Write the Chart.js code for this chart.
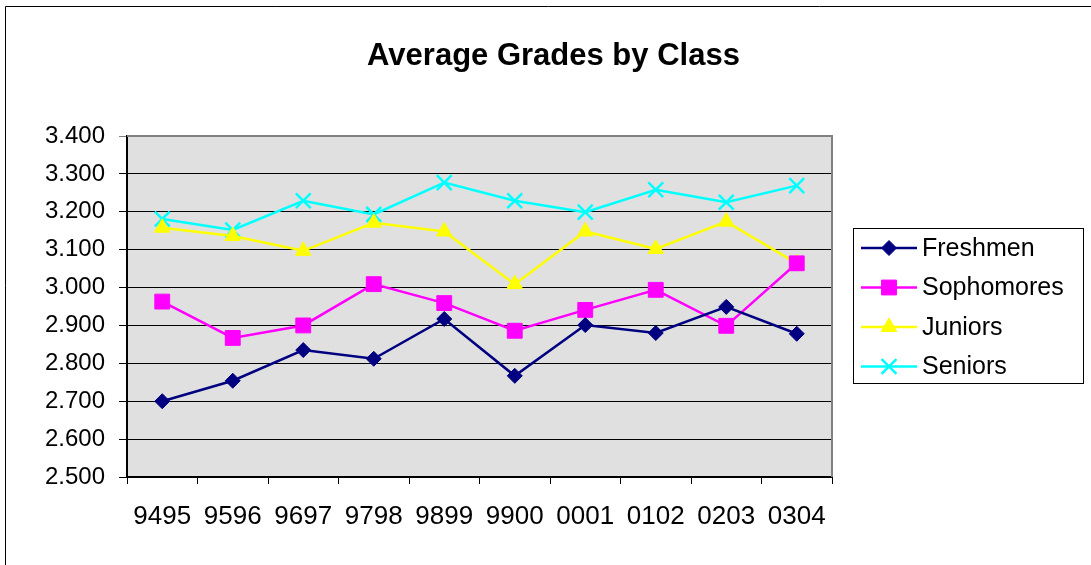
<!DOCTYPE html>
<html>
<head>
<meta charset="utf-8">
<script src="https://cdn.jsdelivr.net/npm/chart.js@4/dist/chart.umd.min.js"></script>
<style>
  html, body { margin: 0; padding: 0; background: #fff; }
  #wrap { width: 1091px; height: 565px; position: relative; }
</style>
</head>
<body>
<div id="wrap"><canvas id="gradesChart" width="1091" height="565"></canvas></div>
<script>
// chart data
const years = ["9495", "9596", "9697", "9798", "9899", "9900", "0001", "0102", "0203", "0304"];
const freshmen   = [2.700, 2.754, 2.835, 2.812, 2.917, 2.767, 2.901, 2.880, 2.949, 2.878];
const sophomores = [2.963, 2.867, 2.900, 3.009, 2.959, 2.886, 2.941, 2.994, 2.899, 3.064];
const juniors    = [3.158, 3.136, 3.097, 3.171, 3.148, 3.009, 3.148, 3.102, 3.174, 3.064];
const seniors    = [3.181, 3.152, 3.229, 3.193, 3.277, 3.229, 3.199, 3.258, 3.225, 3.269];
const yMin = 2.5, yMax = 3.4, yStep = 0.1;

const FONT = "'Liberation Sans', Arial, sans-serif";

// background of plot, outer frame, title and the boxed legend
const framePlugin = {
  id: "frame",
  beforeDraw(chart) {
    const { ctx, chartArea: a } = chart;
    ctx.save();
    ctx.fillStyle = "#e0e0e0";
    ctx.fillRect(a.left, a.top, a.right - a.left, a.bottom - a.top);
    ctx.restore();
  },
  afterDatasetsDraw(chart) {
    const { ctx, chartArea: a } = chart;
    ctx.save();
    // gray top/right edge of plot
    ctx.strokeStyle = "#808080";
    ctx.lineWidth = 2;
    ctx.beginPath();
    ctx.moveTo(a.left, a.top);
    ctx.lineTo(a.right, a.top);
    ctx.lineTo(a.right, a.bottom);
    ctx.stroke();
    ctx.restore();
  },
  afterDraw(chart) {
    const ctx = chart.ctx;
    ctx.save();
    // outer frame (only top and left are inside the picture)
    ctx.strokeStyle = "#000";
    ctx.lineWidth = 1;
    ctx.beginPath();
    ctx.moveTo(5.5, 565);
    ctx.lineTo(5.5, 6.5);
    ctx.lineTo(1091, 6.5);
    ctx.stroke();

    // title
    ctx.fillStyle = "#000";
    ctx.font = "bold 31px " + FONT;
    ctx.textAlign = "center";
    ctx.textBaseline = "alphabetic";
    ctx.fillText("Average Grades by Class", 553.5, 65);

    // legend
    const box = { x: 853.5, y: 228.5, w: 230, h: 155 };
    ctx.strokeStyle = "#000";
    ctx.lineWidth = 1;
    ctx.strokeRect(box.x, box.y, box.w, box.h);
    ctx.font = "25px " + FONT;
    ctx.textAlign = "left";
    ctx.textBaseline = "middle";
    chart.data.datasets.forEach((ds, i) => {
      const cy = 248 + i * 39.5;
      ctx.strokeStyle = ds.borderColor;
      ctx.lineWidth = 2.5;
      ctx.beginPath();
      ctx.moveTo(861, cy);
      ctx.lineTo(917, cy);
      ctx.stroke();
      ctx.fillStyle = ds.pointBackgroundColor;
      ctx.strokeStyle = ds.pointBorderColor;
      ctx.lineWidth = ds.pointBorderWidth;
      Chart.helpers.drawPoint(ctx, { pointStyle: ds.pointStyle, radius: ds.pointRadius, rotation: 0, borderWidth: ds.pointBorderWidth }, 889, cy);
      ctx.fillStyle = "#000";
      ctx.fillText(ds.label, 922, cy + 1);
    });
    ctx.restore();
  }
};

const ctx = document.getElementById("gradesChart").getContext("2d");
new Chart(ctx, {
  type: "line",
  data: {
    labels: years,
    datasets: [
      {
        label: "Freshmen", data: freshmen,
        borderColor: "#000080", borderWidth: 2.5,
        pointStyle: "rectRot", pointRadius: 7.5,
        pointBackgroundColor: "#000080", pointBorderColor: "#000080", pointBorderWidth: 1
      },
      {
        label: "Sophomores", data: sophomores,
        borderColor: "#ff00ff", borderWidth: 2.5,
        pointStyle: "rect", pointRadius: 10.5,
        pointBackgroundColor: "#ff00ff", pointBorderColor: "#ff00ff", pointBorderWidth: 1
      },
      {
        label: "Juniors", data: juniors,
        borderColor: "#ffff00", borderWidth: 2.5,
        pointStyle: "triangle", pointRadius: 9,
        pointBackgroundColor: "#ffff00", pointBorderColor: "#ffff00", pointBorderWidth: 1
      },
      {
        label: "Seniors", data: seniors,
        borderColor: "#00ffff", borderWidth: 2.5,
        pointStyle: "crossRot", pointRadius: 10.5,
        pointBackgroundColor: "#00ffff", pointBorderColor: "#00ffff", pointBorderWidth: 2.5
      }
    ]
  },
  options: {
    responsive: false,
    animation: false,
    layout: { padding: { left: 0, top: 136, right: 259, bottom: 0 } },
    plugins: {
      legend: { display: false },
      title: { display: false },
      tooltip: { enabled: false }
    },
    elements: { line: { tension: 0 } },
    scales: {
      x: {
        offset: true,
        afterFit: (s) => { s.height = 88; },
        grid: { offset: true, drawOnChartArea: false, drawTicks: true, tickLength: 7, color: "#000", lineWidth: 1 },
        border: { color: "#000", width: 2 },
        ticks: { color: "#000", font: { family: FONT, size: 26 }, padding: 17, maxRotation: 0, autoSkip: false }
      },
      y: {
        min: yMin, max: yMax,
        afterFit: (s) => { s.width = 127; },
        grid: {
          color: (c) => (c.tick && Math.abs(c.tick.value - yMax) < 1e-6 ? "#808080" : "#000"),
          lineWidth: 1, drawTicks: true, tickLength: 8
        },
        border: { color: "#000", width: 2 },
        ticks: {
          stepSize: yStep, color: "#000", padding: 14,
          font: { family: FONT, size: 24 },
          callback: (v) => v.toFixed(3)
        }
      }
    }
  },
  plugins: [framePlugin]
});
</script>
</body>
</html>
